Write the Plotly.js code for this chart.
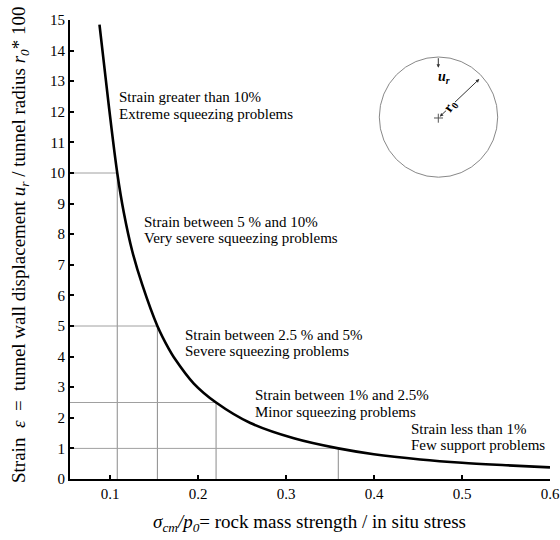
<!DOCTYPE html>
<html>
<head>
<meta charset="utf-8">
<script src="https://cdn.plot.ly/plotly-3.0.1.min.js"></script>
<style>html,body{margin:0;padding:0;background:#fff;}#chart{width:560px;height:540px;}</style>
</head>
<body>
<div id="chart"></div>
<script>
// Curve: sigma_cm/p0 vs strain (%)
const strengthRatio = [0.088, 0.0986, 0.1082, 0.1157, 0.1252, 0.1366, 0.1538, 0.1668, 0.1725, 0.1952, 0.2205, 0.2595, 0.3089, 0.3594, 0.3998, 0.4525, 0.5, 0.55, 0.6];
const strainPct     = [14.85, 12.2, 10.0, 8.7, 7.45, 6.35, 5.0, 4.25, 3.98, 3.12, 2.5, 1.83, 1.33, 1.0, 0.81, 0.64, 0.53, 0.45, 0.38];

// Class boundaries (strain %) and where the curve meets them
const boundaryStrain = [10, 5, 2.5, 1];
const boundaryRatio  = [0.1082, 0.1538, 0.2205, 0.3594];

const xTicks = [0.1, 0.2, 0.3, 0.4, 0.5, 0.6];
const xTickText = ["0.1", "0.2", "0.3", "0.4", "0.5", "0.6"];
const yTicks = [0,1,2,3,4,5,6,7,8,9,10,11,12,13,14,15];

const classLines = [
  ["Strain greater than 10%", "Extreme squeezing problems"],
  ["Strain between 5 % and 10%", "Very severe squeezing problems"],
  ["Strain between 2.5 % and 5%", "Severe squeezing problems"],
  ["Strain between 1% and 2.5%", "Minor squeezing problems"],
  ["Strain less than 1%", "Few support problems"]
];

const X0 = 0.0545;
const FONT = "Liberation Serif, Times New Roman, serif";

const traces = [];
// guide lines
for (let i = 0; i < boundaryStrain.length; i++) {
  traces.push({x: [X0, boundaryRatio[i]], y: [boundaryStrain[i], boundaryStrain[i]], mode: 'lines',
    line: {color: '#a0a0a0', width: 1}, hoverinfo: 'skip', showlegend: false});
  traces.push({x: [boundaryRatio[i], boundaryRatio[i]], y: [0, boundaryStrain[i]], mode: 'lines',
    line: {color: '#8a8a8a', width: 1}, hoverinfo: 'skip', showlegend: false});
}
traces.push({x: strengthRatio, y: strainPct, mode: 'lines', line: {color: '#000', width: 2.6, shape: 'spline', smoothing: 1},
  showlegend: false, cliponaxis: false});

// positions of label lines in paper coords
const labelPos = [
  [0.097, 0.833, 0.796],
  [0.149, 0.561, 0.525],
  [0.235, 0.314, 0.278],
  [0.381, 0.184, 0.146],
  [0.707, 0.109, 0.0747]
];
const annotations = [];
classLines.forEach((ls, i) => {
  const p = labelPos[i];
  annotations.push({xref:'paper', yref:'paper', x:p[0], y:p[1], xanchor:'left', yanchor:'middle', showarrow:false, text: ls[0], font:{family:FONT, size:15, color:'#000'}});
  annotations.push({xref:'paper', yref:'paper', x:p[0], y:p[2], xanchor:'left', yanchor:'middle', showarrow:false, text: ls[1], font:{family:FONT, size:15, color:'#000'}});
});

// axis titles
annotations.push({xref:'paper', yref:'paper', x:-0.104, y:0.51, xanchor:'center', yanchor:'middle', textangle:-90, showarrow:false,
  text: "Strain  <i>ε</i>  =  tunnel wall displacement <i>u<sub>r</sub></i> / tunnel radius <i>r<sub>0</sub></i>* 100",
  font:{family:FONT, size:19, color:'#000'}});
annotations.push({xref:'paper', yref:'paper', x:0.498, y:-0.095, xanchor:'center', yanchor:'middle', showarrow:false,
  text: "<i>σ<sub>cm</sub>/p<sub>0</sub></i>= rock mass strength / in situ stress",
  font:{family:FONT, size:19, color:'#000'}});

// tunnel sketch (paper coords: px -> (px-70)/480, (479.3-py)/459)
const cx = 0.7673, cy = 0.7865;
annotations.push({xref:'paper', yref:'paper', x:cx, y:(479.3-68)/459, text:'', showarrow:true, ax:0, ay:-11,
  arrowhead:2, arrowsize:0.7, arrowwidth:1, arrowcolor:'#333'});
annotations.push({xref:'paper', yref:'paper', x:(479.3-70)/480, y:(479.3-79.3)/459, text:'', showarrow:true, ax:-41, ay:39,
  arrowhead:2, startarrowhead:2, arrowside:'end+start', arrowsize:0.7, arrowwidth:1, arrowcolor:'#333'});
annotations.push({xref:'paper', yref:'paper', x:(452-70)/480, y:(479.3-67)/459, text:'<b><i>u<sub>r</sub></i></b>', showarrow:false,
  font:{family:FONT, size:14, color:'#000'}});
annotations.push({xref:'paper', yref:'paper', x:(462-70)/480, y:(479.3-96)/459, text:'<b>r<sub>0</sub></b>', showarrow:false, textangle:-55,
  bgcolor:'#fff', borderpad:0, font:{family:FONT, size:14, color:'#000'}});

const shapes = [
  {type:'circle', xref:'paper', yref:'paper', x0:(379.3-70)/480, x1:(497.7-70)/480, y0:(479.3-177.5)/459, y1:(479.3-57.3)/459,
    line:{color:'#888', width:1}},
  {type:'line', xref:'paper', yref:'paper', x0:(434-70)/480, x1:(443-70)/480, y0:cy, y1:cy, line:{color:'#555', width:1}},
  {type:'line', xref:'paper', yref:'paper', x0:cx, x1:cx, y0:(479.3-114)/459, y1:(479.3-123)/459, line:{color:'#555', width:1}}
];

const layout = {
  width:560, height:540,
  margin:{l:70, r:10, t:20, b:61, pad:0},
  paper_bgcolor:'#fff', plot_bgcolor:'#fff',
  font:{family:FONT, size:15, color:'#000'},
  xaxis:{range:[X0, 0.6], tickvals:xTicks, ticktext:xTickText, ticks:'inside', ticklen:4, tickwidth:2, tickcolor:'#000',
    showline:true, linewidth:2, linecolor:'#000', showgrid:false, zeroline:false, tickfont:{family:FONT, size:15}},
  yaxis:{range:[0, 15], tickvals:yTicks, ticks:'inside', ticklen:4, tickwidth:2, tickcolor:'#000',
    showline:true, linewidth:2, linecolor:'#000', showgrid:false, zeroline:false, tickfont:{family:FONT, size:15}},
  annotations: annotations,
  shapes: shapes,
  showlegend:false
};
Plotly.newPlot('chart', traces, layout, {staticPlot:true, displayModeBar:false});
</script>
</body>
</html>
